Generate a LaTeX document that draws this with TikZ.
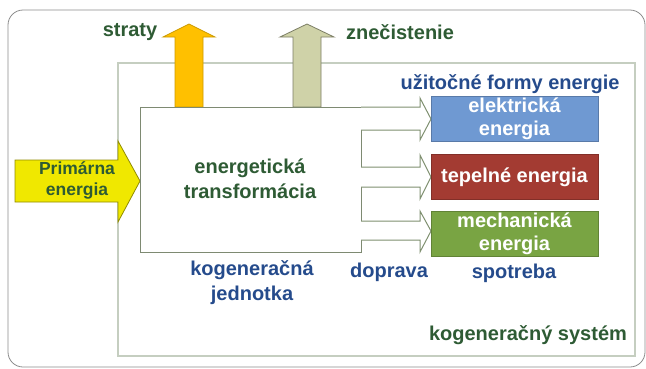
\documentclass[tikz,border=0pt]{standalone}
\usepackage{fontspec}
\setmainfont{Liberation Sans}
\definecolor{dgreen}{HTML}{2E5B34}
\definecolor{dblue}{HTML}{254B8C}
\definecolor{eblue}{HTML}{6F99D2}
\definecolor{ered}{HTML}{A33B32}
\definecolor{egreen}{HTML}{79A443}
\definecolor{orng}{HTML}{FFC000}
\definecolor{khaki}{HTML}{CFD2A8}
\definecolor{yell}{HTML}{F0E800}
\definecolor{sysline}{HTML}{C5CEC0}
\definecolor{boxline}{HTML}{7E8A72}
\definecolor{arrline}{HTML}{7F9070}
\begin{document}
\begin{tikzpicture}[x=1pt,y=-1pt,
  lbl/.style={font=\bfseries\fontsize{20}{25}\selectfont, align=center, inner sep=0pt},
  glbl/.style={lbl, text=dgreen},
  blbl/.style={lbl, text=dblue},
  outbox/.style={draw=#1!80!black, fill=#1, line width=0.8pt, minimum width=167pt, minimum height=45pt, inner sep=0pt,
     text=white, font=\bfseries\fontsize{20}{23}\selectfont, align=center},
  hollow/.style={draw=arrline, line width=1pt, fill=white}
]
\useasboundingbox (0,0) rectangle (646,368);
% outer frame
\draw[draw=gray!90, line width=0.8pt, rounded corners=15pt] (8,10) rectangle (645,367);
% system box
\draw[draw=sysline, line width=1.3pt] (118,63) rectangle (635,356);
% primary arrow
\draw[fill=yell, draw=yell!60!black, line width=0.8pt]
  (15,160) -- (118,160) -- (118,141) -- (140,181) -- (118,222) -- (118,202) -- (15,202) -- cycle;
\node[glbl, font=\bfseries\fontsize{17.5}{21}\selectfont] (prim) at (77,180) {Primárna\\energia};
% up arrows
\draw[fill=orng, draw=orng!80!black, line width=0.8pt]
  (175,107) -- (175,37) -- (163,37) -- (189,24) -- (215,37) -- (203,37) -- (203,107) -- cycle;
\draw[fill=khaki, draw=khaki!60!black, line width=0.8pt]
  (293,107) -- (293,37) -- (280,37) -- (307,24) -- (334,37) -- (321,37) -- (321,107) -- cycle;
\node[glbl] (straty) at (130,32) {straty};
\node[glbl] (znec) at (400,32) {znečistenie};
% transformation box
\node[draw=boxline, fill=white, line width=1pt, minimum width=221pt, minimum height=145pt, inner sep=0pt] (tr) at (250.5,179.5) {};
\node[glbl] (trt) at (250,179) {energetická\\transformácia};
% hollow arrows
\draw[hollow] (361,107) -- (420,107) -- (420,98) -- (431,119) -- (420,140) -- (420,130) -- (361,130);
\draw[hollow] (361,167) -- (420,167) -- (420,155) -- (431,177) -- (420,199) -- (420,187) -- (361,187);
\draw[hollow] (361,221) -- (420,221) -- (420,211) -- (431,231) -- (420,252) -- (420,240) -- (361,240);
% output boxes
\node[outbox=eblue] (elek) at (514.5,119) {elektrická\\energia};
\node[outbox=ered] (tep) at (514.5,177) {tepelné energia};
\node[outbox=egreen] (mech) at (514.5,233.5) {mechanická\\energia};
% labels
\node[blbl] (uzit) at (510,84) {užitočné formy energie};
\node[blbl] (kj) at (252,283) {kogeneračná\\jednotka};
\node[blbl] (dopr) at (389,272) {doprava};
\node[blbl] (spot) at (514,273) {spotreba};
\node[glbl] (ks) at (528,335) {kogeneračný systém};
\end{tikzpicture}
\end{document}
